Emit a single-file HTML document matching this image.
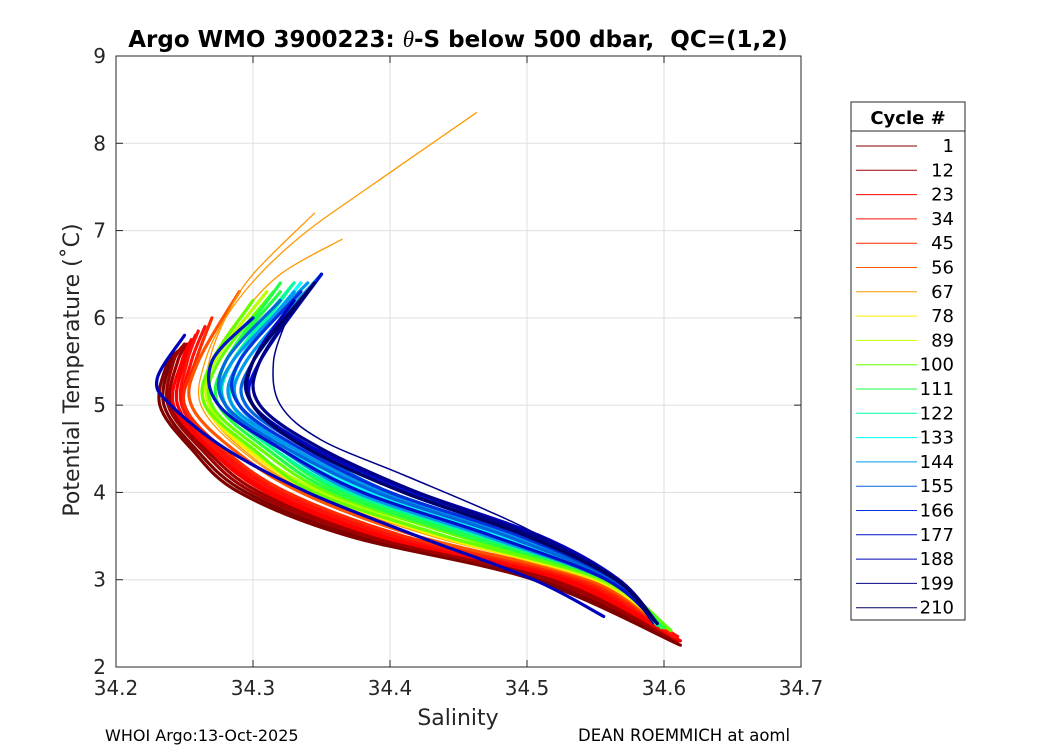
<!DOCTYPE html>
<html><head><meta charset="utf-8"><style>
body{margin:0;background:#fff;}
svg{display:block;font-family:"DejaVu Sans","Liberation Sans",sans-serif;}
</style></head><body>
<svg id="chart" width="1050" height="750" viewBox="0 0 1050 750" xmlns="http://www.w3.org/2000/svg">
<rect width="1050" height="750" fill="#fff"/>
<g id="grid"></g>
<g id="series"></g>
<rect x="116" y="56" width="685" height="611" fill="none" stroke="#262626" stroke-width="1"/>
<g id="ticks"></g>
<text x="458" y="47" text-anchor="middle" font-size="23" font-weight="bold" fill="#000">Argo WMO 3900223: <tspan font-family="Liberation Serif, serif" font-style="italic" font-weight="normal">θ</tspan>-S below 500 dbar,&#160; QC=(1,2)</text>
<text x="458" y="725" text-anchor="middle" font-size="22" fill="#262626">Salinity</text>
<text transform="translate(79,370) rotate(-90)" text-anchor="middle" font-size="22" fill="#262626">Potential Temperature (˚C)</text>
<text x="105" y="741" font-size="16" fill="#000">WHOI Argo:13-Oct-2025</text>
<text x="578" y="741" font-size="16.5" fill="#000">DEAN ROEMMICH at aoml</text>
<g id="legend">
<rect x="851" y="102" width="114" height="518" fill="#fff" stroke="#262626"/>
<line x1="851" y1="131" x2="965" y2="131" stroke="#262626"/>
<text x="908" y="124" text-anchor="middle" font-size="18" font-weight="bold">Cycle #</text>
</g>
</svg>
<script>
const xTicks=[34.2,34.3,34.4,34.5,34.6,34.7];
const yTicks=[2,3,4,5,6,7,8,9];
const legendCycles=[1,12,23,34,45,56,67,78,89,100,111,122,133,144,155,166,177,188,199,210];
const legendColors=["#800000","#a00000","#ff0000","#ff1008","#ff2a00","#ff5500","#ff9900","#ffee00","#bbff00","#66ff00","#22ff44","#00ff99","#00ffff","#0099ee","#0066dd","#0033dd","#0011cc","#0000bb","#000088","#000066"];
const profCycle=[1,5,12,18,23,30,34,40,45,56,67,67,67,78,89,100,105,111,117,122,128,133,140,144,148,150,155,160,166,170,177,183,188,190,194,199,205,210];
const profS=[
[34.245,34.238,34.232,34.255,34.29,34.37,34.505,34.612],
[34.248,34.24,34.235,34.258,34.295,34.375,34.51,34.61],
[34.25,34.242,34.238,34.262,34.30,34.382,34.515,34.61],
[34.252,34.245,34.24,34.265,34.305,34.388,34.52,34.61],
[34.255,34.248,34.242,34.268,34.31,34.392,34.525,34.612],
[34.258,34.25,34.245,34.27,34.314,34.398,34.53,34.61],
[34.26,34.252,34.248,34.272,34.318,34.402,34.535,34.61],
[34.265,34.255,34.25,34.275,34.322,34.408,34.538,34.608],
[34.27,34.258,34.25,34.278,34.325,34.41,34.54,34.605],
[34.29,34.26,34.255,34.285,34.335,34.42,34.545,34.60],
[34.463,34.385,34.34,34.305,34.28,34.265,34.262,34.29,34.34,34.43,34.55,34.60],
[34.365,34.32,34.29,34.27,34.265,34.295,34.345,34.44,34.55,34.585],
[34.345,34.30,34.28,34.268,34.265,34.292,34.342,34.435,34.548,34.585],
[34.30,34.27,34.265,34.295,34.345,34.435,34.55,34.60],
[34.31,34.272,34.268,34.298,34.35,34.44,34.552,34.602],
[34.30,34.27,34.265,34.30,34.345,34.44,34.555,34.605],
[34.315,34.275,34.27,34.305,34.355,34.45,34.556,34.605],
[34.32,34.28,34.275,34.31,34.36,34.455,34.558,34.60],
[34.32,34.28,34.28,34.315,34.365,34.46,34.56,34.598],
[34.33,34.285,34.28,34.315,34.37,34.465,34.56,34.596],
[34.325,34.29,34.285,34.32,34.375,34.47,34.562,34.595],
[34.335,34.29,34.285,34.325,34.38,34.475,34.563,34.595],
[34.33,34.29,34.29,34.33,34.385,34.48,34.564,34.594],
[34.35,34.295,34.29,34.33,34.39,34.485,34.562,34.595],
[34.34,34.285,34.28,34.32,34.375,34.47,34.558,34.595],
[34.33,34.29,34.285,34.33,34.395,34.49,34.563,34.595],
[34.35,34.30,34.295,34.34,34.40,34.495,34.564,34.595],
[34.32,34.28,34.28,34.325,34.39,34.485,34.562,34.595],
[34.345,34.30,34.30,34.345,34.41,34.50,34.565,34.595],
[34.335,34.29,34.29,34.335,34.40,34.495,34.564,34.595],
[34.35,34.305,34.30,34.34,34.415,34.505,34.566,34.595],
[34.30,34.27,34.275,34.32,34.38,34.475,34.558,34.595],
[34.34,34.30,34.30,34.345,34.42,34.51,34.567,34.595],
[34.25,34.23,34.24,34.28,34.34,34.42,34.505,34.556],
[34.33,34.30,34.30,34.34,34.41,34.50,34.565,34.595],
[34.325,34.315,34.32,34.35,34.41,34.47,34.51,34.565,34.592],
[34.34,34.305,34.305,34.35,34.42,34.505,34.566,34.595],
[34.345,34.30,34.30,34.34,34.41,34.50,34.565,34.595]];
const profT=[
[5.6,5.5,5.0,4.5,4.0,3.5,3.0,2.25],
[5.65,5.5,5.0,4.5,4.0,3.5,3.0,2.28],
[5.7,5.5,5.0,4.5,4.0,3.5,3.0,2.3],
[5.7,5.5,5.0,4.5,4.0,3.5,3.0,2.3],
[5.75,5.5,5.0,4.5,4.0,3.5,3.0,2.3],
[5.8,5.5,5.0,4.5,4.0,3.5,3.0,2.32],
[5.85,5.5,5.0,4.5,4.0,3.5,3.0,2.35],
[5.9,5.5,5.0,4.5,4.0,3.5,3.0,2.35],
[6.0,5.5,5.0,4.5,4.0,3.5,3.0,2.4],
[6.3,5.5,5.0,4.5,4.0,3.5,3.0,2.45],
[8.35,7.5,7.0,6.5,6.0,5.5,5.0,4.5,4.0,3.5,3.0,2.45],
[6.9,6.5,6.0,5.5,5.0,4.5,4.0,3.5,3.0,2.7],
[7.2,6.5,6.0,5.5,5.0,4.5,4.0,3.5,3.0,2.7],
[6.2,5.5,5.0,4.5,4.0,3.5,3.0,2.45],
[6.3,5.5,5.0,4.5,4.0,3.5,3.0,2.45],
[6.2,5.5,5.0,4.5,4.0,3.5,3.0,2.42],
[6.3,5.5,5.0,4.5,4.0,3.5,3.0,2.42],
[6.4,5.5,5.0,4.5,4.0,3.5,3.0,2.45],
[6.3,5.5,5.0,4.5,4.0,3.5,3.0,2.45],
[6.4,5.5,5.0,4.5,4.0,3.5,3.0,2.48],
[6.3,5.5,5.0,4.5,4.0,3.5,3.0,2.48],
[6.4,5.5,5.0,4.5,4.0,3.5,3.0,2.5],
[6.3,5.5,5.0,4.5,4.0,3.5,3.0,2.5],
[6.5,5.5,5.0,4.5,4.0,3.5,3.0,2.5],
[6.4,5.5,5.0,4.5,4.0,3.5,3.0,2.5],
[6.3,5.5,5.0,4.5,4.0,3.5,3.0,2.5],
[6.5,5.5,5.0,4.5,4.0,3.5,3.0,2.5],
[6.2,5.5,5.0,4.5,4.0,3.5,3.0,2.5],
[6.4,5.5,5.0,4.5,4.0,3.5,3.0,2.5],
[6.3,5.5,5.0,4.5,4.0,3.5,3.0,2.5],
[6.5,5.5,5.0,4.5,4.0,3.5,3.0,2.5],
[6.0,5.5,5.0,4.5,4.0,3.5,3.0,2.5],
[6.3,5.5,5.0,4.5,4.0,3.5,3.0,2.5],
[5.8,5.3,5.0,4.5,4.0,3.5,3.0,2.58],
[6.2,5.5,5.0,4.5,4.0,3.5,3.0,2.5],
[6.0,5.5,5.0,4.6,4.2,3.8,3.5,3.0,2.5],
[6.3,5.5,5.0,4.5,4.0,3.5,3.0,2.5],
[6.4,5.5,5.0,4.5,4.0,3.5,3.0,2.5]];
const NS="http://www.w3.org/2000/svg";
function sx(s){return 116+(s-34.2)/0.5*685;}
function sy(t){return 667-(t-2)/7*611;}
function mk(tag,attrs,parent){const e=document.createElementNS(NS,tag);for(const k in attrs)e.setAttribute(k,attrs[k]);parent.appendChild(e);return e;}
function colorFor(c){let idx=0;for(let i=0;i<legendCycles.length;i++){if(c>=legendCycles[i])idx=i;}return legendColors[idx];}
function smoothPath(p){
  let d='M'+p[0][0].toFixed(1)+','+p[0][1].toFixed(1);
  for(let i=0;i<p.length-1;i++){
    const p0=p[i-1]||p[i],p1=p[i],p2=p[i+1],p3=p[i+2]||p2;
    const c1x=p1[0]+(p2[0]-p0[0])/6,c1y=p1[1]+(p2[1]-p0[1])/6;
    const c2x=p2[0]-(p3[0]-p1[0])/6,c2y=p2[1]-(p3[1]-p1[1])/6;
    d+=' C'+c1x.toFixed(1)+','+c1y.toFixed(1)+' '+c2x.toFixed(1)+','+c2y.toFixed(1)+' '+p2[0].toFixed(1)+','+p2[1].toFixed(1);
  }
  return d;
}
const grid=document.getElementById('grid'),ticks=document.getElementById('ticks'),series=document.getElementById('series'),legend=document.getElementById('legend');
xTicks.forEach(v=>{
  const x=sx(v);
  const g=mk('line',{x1:x,x2:x,y1:56,y2:667,stroke:'#dfdfdf','stroke-width':1},grid);
  
  
  mk('line',{x1:x,x2:x,y1:667,y2:660,stroke:'#262626'},ticks);
  mk('line',{x1:x,x2:x,y1:56,y2:63,stroke:'#262626'},ticks);
  const t=mk('text',{x:x,y:695,'text-anchor':'middle','font-size':20,fill:'#262626'},ticks);
  t.textContent=v.toFixed(1);
  
  
});
yTicks.forEach(v=>{
  const y=sy(v);
  const g=mk('line',{x1:116,x2:801,y1:y,y2:y,stroke:'#dfdfdf','stroke-width':1},grid);
  
  
  mk('line',{x1:116,x2:123,y1:y,y2:y,stroke:'#262626'},ticks);
  mk('line',{x1:794,x2:801,y1:y,y2:y,stroke:'#262626'},ticks);
  const t=mk('text',{x:106,y:y+7,'text-anchor':'end','font-size':20,fill:'#262626'},ticks);
  t.textContent=String(v);
  
  
});
profCycle.forEach((c,i)=>{
  const n=Math.min(profS[i].length,profT[i].length);
  const pts=[];
  for(let j=0;j<n;j++)pts.push([sx(profS[i][j]),sy(profT[i][j])]);
  const col=colorFor(c);
  const w=(c===67)?1.3:(c===199?1.5:3.2);
  const p=mk('path',{d:smoothPath(pts),fill:'none',stroke:col,'stroke-width':w,'stroke-linejoin':'round','stroke-linecap':'round'},series);
  
  
});
legendCycles.forEach((c,i)=>{
  const y=146+i*24.3;
  const l=mk('line',{x1:856,x2:917,y1:y,y2:y,stroke:legendColors[i],'stroke-width':1},legend);
  
  
  const t=mk('text',{x:954,y:y+6,'text-anchor':'end','font-size':18,fill:'#000'},legend);
  t.textContent=String(c);
  
  
});
</script>
</body></html>
